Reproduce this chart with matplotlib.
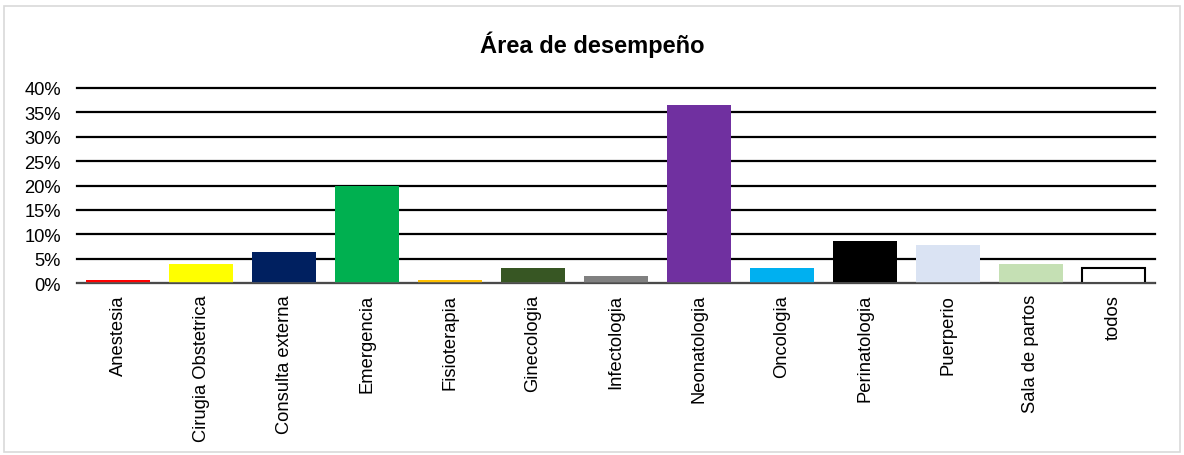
import matplotlib
matplotlib.use("Agg")
import matplotlib.pyplot as plt
from matplotlib.patches import Rectangle
from matplotlib.ticker import FuncFormatter, MultipleLocator

plt.rcParams['font.family'] = ['Liberation Sans', 'DejaVu Sans']

areas = ["Anestesia", "Cirugia Obstetrica", "Consulta externa", "Emergencia",
         "Fisioterapia", "Ginecologia", "Infectologia", "Neonatologia",
         "Oncologia", "Perinatologia", "Puerperio", "Sala de partos", "todos"]
porcentajes = [0.7, 4.0, 6.4, 19.9, 0.6, 3.1, 1.4, 36.5, 3.1, 8.7, 7.8, 3.9, 3.1]
colores = ["#ff0000", "#ffff00", "#002060", "#00b050", "#ffc000", "#375623",
           "#808080", "#7030a0", "#00b0f0", "#000000", "#dae3f3", "#c5e0b4",
           "#ffffff"]

fig = plt.figure(figsize=(11.84, 4.56), dpi=100)
ax = fig.add_axes([0.065, 0.377, 0.9105, 0.428])

# chart frame
fig.patches.append(Rectangle((0.003, 0.007), 0.994, 0.978, transform=fig.transFigure,
                             fill=False, edgecolor="#d9d9d9", lw=1.2))

x = range(len(areas))
for i, (v, c) in enumerate(zip(porcentajes, colores)):
    if c == "#ffffff":
        ax.bar(i, v, width=0.77, color=c, edgecolor="black", lw=1.5, zorder=3)
    else:
        ax.bar(i, v, width=0.77, color=c, zorder=3)

ax.set_xlim(-0.5, len(areas) - 0.5)
ax.set_ylim(0, 40)
ax.yaxis.set_major_locator(MultipleLocator(5))
ax.yaxis.set_major_formatter(FuncFormatter(lambda v, p: f"{v:.0f}%"))
ax.grid(axis="y", color="black", lw=1.6, zorder=1)
ax.set_axisbelow(True)
for line in ax.get_ygridlines():
    line.set_clip_on(False)
for s in ["top", "right", "left"]:
    ax.spines[s].set_visible(False)
ax.spines["bottom"].set_color("#595959")
ax.spines["bottom"].set_linewidth(1.2)
ax.spines["bottom"].set_zorder(4)

ax.set_xticks(list(x))
ax.set_xticklabels(areas, rotation=90, fontsize=13.2)
ax.tick_params(axis="x", length=0, pad=8)
ax.tick_params(axis="y", length=0, labelsize=13.2, pad=11.5)

fig.text(0.5, 0.902, "Área de desempeño", ha="center", va="center",
         fontsize=17, fontweight="bold")

fig.savefig("out.png", dpi=100)
